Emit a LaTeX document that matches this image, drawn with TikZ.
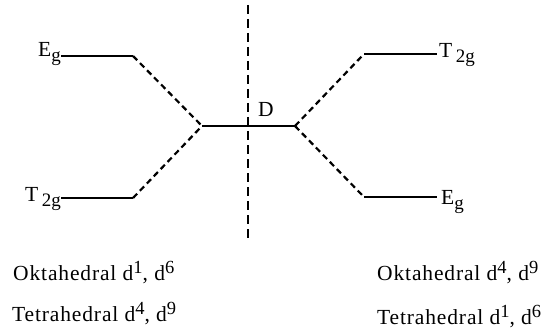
\documentclass[tikz,border=0pt]{standalone}
\usepackage{fontspec}
\setmainfont{Liberation Serif}
\newfontfamily\spacedfont[LetterSpace=4]{Liberation Serif}
\newcommand\lsub[1]{\raisebox{-5pt}{\fontsize{19}{19}\selectfont #1}}
\newcommand\lsup[1]{\raisebox{7pt}{\fontsize{18.5}{18.5}\selectfont #1}}
\begin{document}
\begin{tikzpicture}[x=1pt,y=-1pt,
  lvl/.style={line width=2.2pt},
  conn/.style={line width=2.2pt, dash pattern=on 6pt off 4pt},
  axisline/.style={line width=2.2pt, dash pattern=on 9pt off 5pt},
  lab/.style={inner sep=0pt, font=\fontsize{21.5}{26}\selectfont},
  caption/.style={inner sep=0pt, font=\spacedfont\fontsize{21.5}{26}\selectfont},
]
\useasboundingbox (0,0) rectangle (543,334);
\coordinate (L1a) at (61,56); \coordinate (L1b) at (133,56);
\coordinate (L2a) at (61,198); \coordinate (L2b) at (133,198);
\coordinate (Ca) at (202,126); \coordinate (Cb) at (295,126);
\coordinate (R1a) at (364,54); \coordinate (R1b) at (437,54);
\coordinate (R2a) at (364,197); \coordinate (R2b) at (437,197);
\coordinate (Vt) at (248,5); \coordinate (Vb) at (248,238);

\draw[axisline] (Vt) -- (Vb);
\draw[lvl] (L1a) -- (L1b);
\draw[lvl] (L2a) -- (L2b);
\draw[lvl] (Ca) -- (Cb);
\draw[lvl] (R1a) -- (R1b);
\draw[lvl] (R2a) -- (R2b);
\draw[conn] (L1b) -- (Ca);
\draw[conn] (L2b) -- (Ca);
\draw[conn] (Cb) -- (R1a);
\draw[conn] (Cb) -- (R2a);

\node[lab, anchor=base east] (eg1) at (61,57) {E\lsub{g}};
\node[lab, anchor=base east] (t2g1) at (61,201) {T\,\lsub{2g}};
\node[lab, anchor=base west] (t2g2) at (439,58) {T\,\lsub{2g}};
\node[lab, anchor=base west] (eg2) at (441,204) {E\lsub{g}};
\node[lab, anchor=base west] (dlab) at (258,117) {D};

\node[caption, anchor=base west] (ok1) at (13,280) {Oktahedral d\lsup{1}, d\lsup{6}};
\node[caption, anchor=base west] (te1) at (12,321) {Tetrahedral d\lsup{4}, d\lsup{9}};
\node[caption, anchor=base west] (ok2) at (377,280) {Oktahedral d\lsup{4}, d\lsup{9}};
\node[caption, anchor=base west] (te2) at (377,324) {Tetrahedral d\lsup{1}, d\lsup{6}};
\end{tikzpicture}
\end{document}
